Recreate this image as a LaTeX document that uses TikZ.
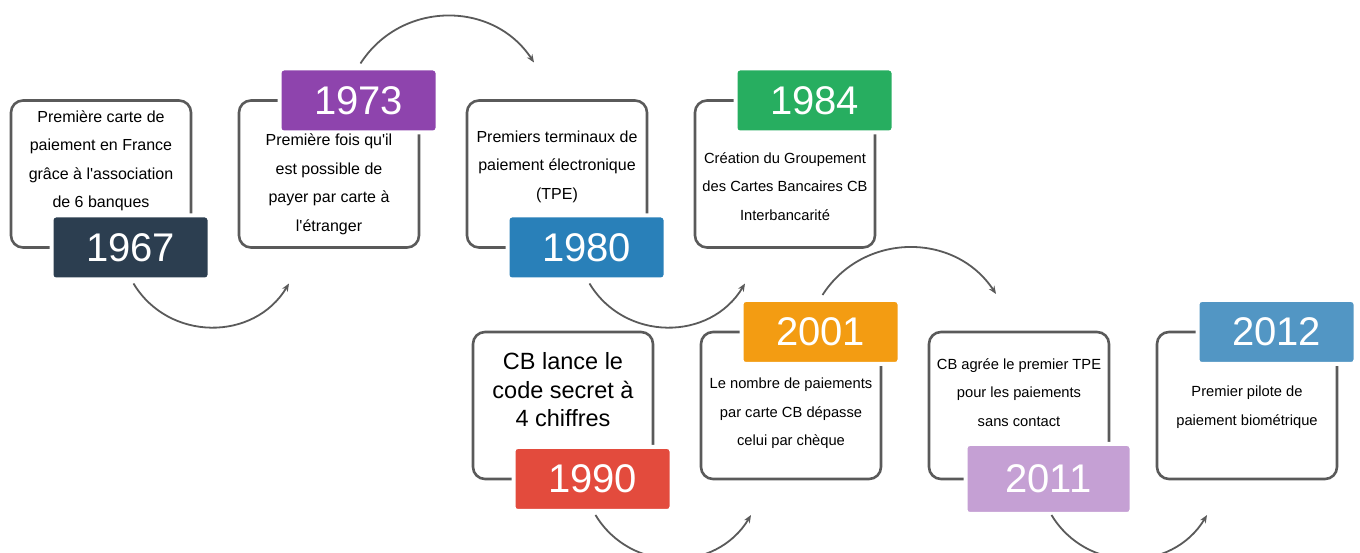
\documentclass[tikz,border=0pt]{standalone}
\usepackage{xcolor}
\usepackage{fontspec}
\setmainfont{Liberation Sans}
\usetikzlibrary{positioning,arrows.meta}
\definecolor{c1967}{HTML}{2C3E50}
\definecolor{c1973}{HTML}{8E44AD}
\definecolor{c1980}{HTML}{2980B9}
\definecolor{c1984}{HTML}{27AE60}
\definecolor{c1990}{HTML}{E34B3D}
\definecolor{c2001}{HTML}{F39C12}
\definecolor{c2011}{HTML}{C5A0D4}
\definecolor{c2012}{HTML}{5296C4}
\definecolor{rim}{HTML}{5A5A5A}

\begin{document}
\begin{tikzpicture}[
    box/.style={draw=rim, line width=2.6pt, rounded corners=12pt, minimum width=180pt, minimum height=147pt, outer sep=0pt},
    year/.style={draw=white, line width=4pt, rounded corners=4pt, minimum width=158pt, minimum height=64pt, outer sep=0pt, text=white, font=\fontsize{40}{40}\selectfont, xshift=29.5pt},
    txt/.style={align=center, font=\fontsize{16}{28.5}\selectfont},
    small/.style={align=center, font=\fontsize{14.7}{28.5}\selectfont},
    flow/.style={draw=rim, line width=1.8pt, -{Stealth[length=8pt,width=6.5pt]}}
  ]
    \useasboundingbox (0,0) rectangle (1360pt,553pt);
    \node[box] (b1967) at (101pt,379pt) {};
    \node[box, right=48pt of b1967] (b1973) {};
    \node[box, right=48pt of b1973] (b1980) {};
    \node[box, right=48pt of b1980] (b1984) {};
    \node[box, below=84.5pt of b1980, xshift=6pt] (b1990) {};
    \node[box, right=48pt of b1990] (b2001) {};
    \node[box, right=48pt of b2001] (b2011) {};
    \node[box, right=48pt of b2011] (b2012) {};

    \node[year, fill=c1967] (y1967) at (b1967.south) {1967};
    \node[year, fill=c1973] (y1973) at (b1973.north) {1973};
    \node[year, fill=c1980] (y1980) at (b1980.south) {1980};
    \node[year, fill=c1984] (y1984) at (b1984.north) {1984};
    \node[year, fill=c1990] (y1990) at (b1990.south) {1990};
    \node[year, fill=c2001] (y2001) at (b2001.north) {2001};
    \node[year, fill=c2011, minimum width=166pt, minimum height=70pt] (y2011) at (b2011.south) {2011};
    \node[year, fill=c2012] (y2012) at (b2012.north) {2012};

    \node[txt] (t1967) at ([yshift=13pt]b1967.center) {Première carte de\\paiement en France\\grâce à l\textquotesingle association\\de 6 banques};
    \node[txt] (t1973) at ([yshift=-10.5pt]b1973.center) {Première fois qu\textquotesingle il\\est possible de\\payer par carte à\\l\textquotesingle étranger};
    \node[txt] (t1980) at ([yshift=7.5pt]b1980.center) {Premiers terminaux de\\paiement électronique\\(TPE)};
    \node[small] (t1984) at ([yshift=-12.5pt]b1984.center) {Création du Groupement\\des Cartes Bancaires CB\\Interbancarité};
    \node[align=center, font=\fontsize{23.5}{28.5}\selectfont] (t1990) at ([yshift=15.5pt]b1990.center) {CB lance le\\code secret à\\4 chiffres};
    \node[small] (t2001) at ([yshift=-8pt]b2001.center) {Le nombre de paiements\\par carte CB dépasse\\celui par chèque};
    \node[small] (t2011) at ([yshift=13pt]b2011.center) {CB agrée le premier TPE\\pour les paiements\\sans contact};
    \node[small] (t2012) at ([yshift=-1.5pt]b2012.center) {Premier pilote de\\paiement biométrique};

    \coordinate (e1973) at ([xshift=50pt,yshift=-36pt]b1973.south west);
    \coordinate (e1980) at ([xshift=67pt,yshift=38pt]b1980.north west);
    \coordinate (e1984) at ([xshift=50pt,yshift=-36pt]b1984.south west);
    \coordinate (e2001) at ([xshift=50pt,yshift=-36pt]b2001.south west);
    \coordinate (e2011) at ([xshift=67pt,yshift=38pt]b2011.north west);
    \coordinate (e2012) at ([xshift=50pt,yshift=-36pt]b2012.south west);
    \draw[flow] ([xshift=3pt,yshift=-4pt]y1967.south) to[bend right=59, looseness=1.12] (e1973);
    \draw[flow] ([xshift=2pt,yshift=5pt]y1973.north) to[bend left=57, looseness=1.1] (e1980);
    \draw[flow] ([xshift=3pt,yshift=-4pt]y1980.south) to[bend right=59, looseness=1.12] (e1984);
    \draw[flow] ([xshift=3pt,yshift=-4pt]y1990.south) to[bend right=59, looseness=1.12] (e2001);
    \draw[flow] ([xshift=2pt,yshift=5pt]y2001.north) to[bend left=57, looseness=1.1] (e2011);
    \draw[flow] ([xshift=3pt,yshift=-1pt]y2011.south) to[bend right=59, looseness=1.12] (e2012);
\end{tikzpicture}
\end{document}
